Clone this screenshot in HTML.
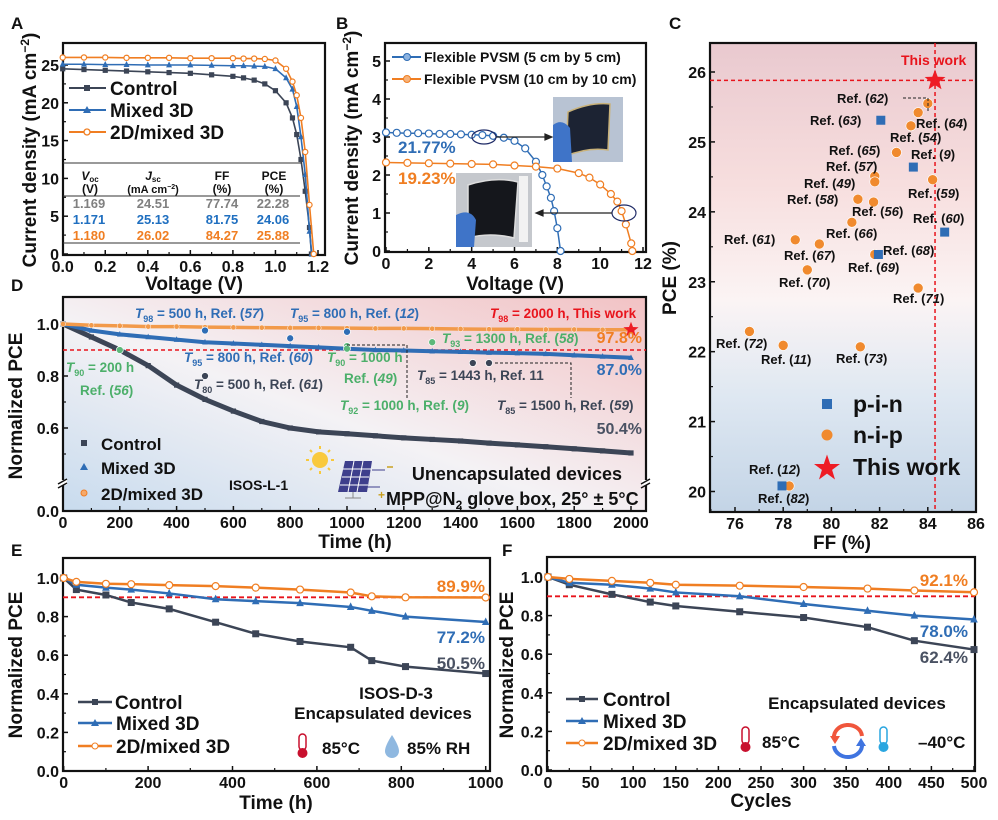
<!DOCTYPE html>
<html><head><meta charset="utf-8">
<style>
html,body{margin:0;padding:0;background:#fff;}
svg{display:block;font-family:"Liberation Sans",Arial,sans-serif;font-weight:bold;}
</style></head>
<body>
<svg id="fig" width="998" height="820" viewBox="0 0 998 820" xmlns="http://www.w3.org/2000/svg">
<defs>
<linearGradient id="gC" x1="0" y1="0" x2="0" y2="1">
<stop offset="0" stop-color="#e9c9cf"/><stop offset="0.3" stop-color="#f7dede"/><stop offset="0.55" stop-color="#fbf4f4"/><stop offset="0.75" stop-color="#dfe8f2"/><stop offset="1" stop-color="#c3d4e6"/>
</linearGradient>
<linearGradient id="gD" x1="0" y1="1" x2="1" y2="0">
<stop offset="0" stop-color="#c8dbee"/><stop offset="0.45" stop-color="#f4f2f5"/><stop offset="1" stop-color="#f2c2c4"/>
</linearGradient>
</defs>
<rect x="710" y="43" width="266" height="469" fill="url(#gC)"/>
<rect x="63" y="297" width="583" height="214" fill="url(#gD)"/>
<g id="layer"></g>

<!-- panel letters -->
<g font-size="17" fill="#111">
<text x="11" y="29">A</text>
<text x="336" y="29">B</text>
<text x="669" y="29">C</text>
<text x="11" y="291">D</text>
<text x="11" y="556">E</text>
<text x="502" y="556">F</text>
</g>

<!-- axis titles -->
<g font-size="19" fill="#111" text-anchor="middle">
<text transform="translate(36,150) rotate(-90)">Current density (mA cm<tspan font-size="12" dy="-7">−2</tspan><tspan dy="7">)</tspan></text>
<text x="194" y="290">Voltage (V)</text>
<text transform="translate(358,148) rotate(-90)">Current density (mA cm<tspan font-size="12" dy="-7">−2</tspan><tspan dy="7">)</tspan></text>
<text x="515" y="290">Voltage (V)</text>
<text transform="translate(676,278) rotate(-90)">PCE (%)</text>
<text x="842" y="549">FF (%)</text>
<text transform="translate(22,406) rotate(-90)">Normalized PCE</text>
<text x="355" y="548">Time (h)</text>
<text transform="translate(22,665) rotate(-90)">Normalized PCE</text>
<text x="276" y="809">Time (h)</text>
<text transform="translate(513,665) rotate(-90)">Normalized PCE</text>
<text x="761" y="807">Cycles</text>
</g>

<!-- Panel A legend & table -->
<g font-size="19" fill="#111">
<line x1="69" y1="88" x2="106" y2="88" stroke="#3c4556" stroke-width="2"/><rect x="84" y="85" width="6" height="6" fill="#3c4556"/>
<text x="110" y="95">Control</text>
<line x1="69" y1="110" x2="106" y2="110" stroke="#2f6db5" stroke-width="2"/><polygon points="87,106 91,113 83,113" fill="#2f6db5"/>
<text x="110" y="117">Mixed 3D</text>
<line x1="69" y1="132" x2="106" y2="132" stroke="#f07e22" stroke-width="2"/><circle cx="87" cy="132" r="3" fill="#fff" stroke="#f07e22" stroke-width="1.3"/>
<text x="110" y="139">2D/mixed 3D</text>
</g>
<g font-size="12" text-anchor="middle">
<line x1="63" y1="163" x2="302" y2="163" stroke="#333" stroke-width="1"/>
<line x1="63" y1="196" x2="300" y2="196" stroke="#333" stroke-width="1"/>
<line x1="63" y1="243" x2="300" y2="243" stroke="#333" stroke-width="1"/>
<text x="90" y="180" fill="#111"><tspan font-style="italic">V</tspan><tspan font-size="8" dy="2">oc</tspan></text>
<text x="90" y="193" fill="#111">(V)</text>
<text x="153" y="180" fill="#111"><tspan font-style="italic">J</tspan><tspan font-size="8" dy="2">sc</tspan></text>
<text x="153" y="193" fill="#111" font-size="11">(mA cm<tspan font-size="7" dy="-4">−2</tspan><tspan dy="4">)</tspan></text>
<text x="222" y="180" fill="#111">FF</text><text x="222" y="193" fill="#111">(%)</text>
<text x="274" y="180" fill="#111">PCE</text><text x="274" y="193" fill="#111">(%)</text>
<g font-size="13" fill="#808080"><text x="89" y="208">1.169</text><text x="153" y="208">24.51</text><text x="222" y="208">77.74</text><text x="273" y="208">22.28</text></g>
<g font-size="13" fill="#1f6fc0"><text x="89" y="224">1.171</text><text x="153" y="224">25.13</text><text x="222" y="224">81.75</text><text x="273" y="224">24.06</text></g>
<g font-size="13" fill="#f07e22"><text x="89" y="240">1.180</text><text x="153" y="240">26.02</text><text x="222" y="240">84.27</text><text x="273" y="240">25.88</text></g>
</g>

<!-- Panel B legend, labels, photos -->
<g font-size="14" fill="#111">
<line x1="392" y1="57" x2="421" y2="57" stroke="#2f6db5" stroke-width="2"/><circle cx="407" cy="57" r="3.5" fill="#8db3e0" stroke="#2f6db5"/>
<text x="424" y="62">Flexible PVSM (5 cm by 5 cm)</text>
<line x1="392" y1="79" x2="421" y2="79" stroke="#f07e22" stroke-width="2"/><circle cx="407" cy="79" r="3.5" fill="#f6b27a" stroke="#f07e22"/>
<text x="424" y="84">Flexible PVSM (10 cm by 10 cm)</text>
</g>
<text x="398" y="153" font-size="17" fill="#2f6db5">21.77%</text>
<text x="398" y="184" font-size="17" fill="#f07e22">19.23%</text>
<g>
<rect x="553" y="97" width="70" height="65" fill="#b8c3d3"/>
<path d="M568,112 Q590,102 610,104 L608,150 Q588,147 566,156 Z" fill="#1c2333" stroke="#c9b27a" stroke-width="1.5"/>
<path d="M553,125 Q562,118 570,128 L572,162 L553,162 Z" fill="#3f74c8"/>
</g>
<g>
<rect x="456" y="173" width="76" height="74" fill="#c5c8cd"/>
<path d="M468,185 Q495,176 518,182 L514,238 Q490,232 468,238 Z" fill="#15171c" stroke="#ddd" stroke-width="1.5"/>
<rect x="519" y="176" width="9" height="66" fill="#f2f2f2"/>
<path d="M456,215 Q470,208 476,220 L474,247 L456,247 Z" fill="#3f74c8"/>
</g>
<g stroke="#222" stroke-width="1.2" fill="none">
<ellipse cx="484" cy="137" rx="12" ry="7" stroke="#1e2a66"/>
<line x1="496" y1="137" x2="548" y2="137"/><polygon points="552,137 545,134 545,140" fill="#222"/>
<ellipse cx="624" cy="213" rx="12" ry="8" stroke="#1e2a66"/>
<line x1="612" y1="213" x2="541" y2="213"/><polygon points="536,213 543,210 543,216" fill="#222"/>
</g>

<!-- Panel C labels -->
<g font-size="13" fill="#111">
<text x="901" y="65" fill="#e8141c" font-size="14">This work</text>
<text x="837" y="103">Ref. (<tspan font-style="italic">62</tspan>)</text>
<text x="810" y="125">Ref. (<tspan font-style="italic">63</tspan>)</text>
<text x="916" y="128">Ref. (<tspan font-style="italic">64</tspan>)</text>
<text x="890" y="142">Ref. (<tspan font-style="italic">54</tspan>)</text>
<text x="829" y="155">Ref. (<tspan font-style="italic">65</tspan>)</text>
<text x="911" y="159">Ref. (<tspan font-style="italic">9</tspan>)</text>
<text x="826" y="171">Ref. (<tspan font-style="italic">57</tspan>)</text>
<text x="804" y="188">Ref. (<tspan font-style="italic">49</tspan>)</text>
<text x="908" y="198">Ref. (<tspan font-style="italic">59</tspan>)</text>
<text x="787" y="204">Ref. (<tspan font-style="italic">58</tspan>)</text>
<text x="852" y="216">Ref. (<tspan font-style="italic">56</tspan>)</text>
<text x="913" y="223">Ref. (<tspan font-style="italic">60</tspan>)</text>
<text x="826" y="238">Ref. (<tspan font-style="italic">66</tspan>)</text>
<text x="724" y="244">Ref. (<tspan font-style="italic">61</tspan>)</text>
<text x="784" y="260">Ref. (<tspan font-style="italic">67</tspan>)</text>
<text x="883" y="255">Ref. (<tspan font-style="italic">68</tspan>)</text>
<text x="848" y="272">Ref. (<tspan font-style="italic">69</tspan>)</text>
<text x="779" y="287">Ref. (<tspan font-style="italic">70</tspan>)</text>
<text x="893" y="303">Ref. (<tspan font-style="italic">71</tspan>)</text>
<text x="716" y="348">Ref. (<tspan font-style="italic">72</tspan>)</text>
<text x="761" y="364">Ref. (<tspan font-style="italic">11</tspan>)</text>
<text x="836" y="363">Ref. (<tspan font-style="italic">73</tspan>)</text>
<text x="749" y="474">Ref. (<tspan font-style="italic">12</tspan>)</text>
<text x="758" y="503">Ref. (<tspan font-style="italic">82</tspan>)</text>
</g>
<polyline points="903,98 928,98 928,112" fill="none" stroke="#222" stroke-dasharray="3,2"/>
<g font-size="23" fill="#111">
<rect x="822" y="399" width="10" height="10" fill="#2f6db5"/>
<text x="853" y="412">p-i-n</text>
<circle cx="827" cy="435" r="5.5" fill="#f08a2e"/>
<text x="853" y="443">n-i-p</text>
<polygon points="827,454.5 830.2,464 840,464 832.1,469.9 835,479.5 827,473.6 819,479.5 821.9,469.9 814,464 823.8,464" fill="#ee1c25"/>
<text x="853" y="475">This work</text>
</g>

<!-- Panel D annotations -->
<g font-size="13.5">
<text x="135" y="318" fill="#2f6db5"><tspan font-style="italic">T</tspan><tspan font-size="9" dy="4">98</tspan><tspan dy="-4"> = 500 h, Ref. (</tspan><tspan font-style="italic">57</tspan>)</text>
<text x="290" y="318" fill="#2f6db5"><tspan font-style="italic">T</tspan><tspan font-size="9" dy="4">95</tspan><tspan dy="-4"> = 800 h, Ref. (</tspan><tspan font-style="italic">12</tspan>)</text>
<text x="490" y="318" fill="#e8141c"><tspan font-style="italic">T</tspan><tspan font-size="9" dy="4">98</tspan><tspan dy="-4"> = 2000 h, This work</tspan></text>
<text x="442" y="343" fill="#4caf6a"><tspan font-style="italic">T</tspan><tspan font-size="9" dy="4">93</tspan><tspan dy="-4"> = 1300 h, Ref. (</tspan><tspan font-style="italic">58</tspan>)</text>
<text x="184" y="362" fill="#2f6db5"><tspan font-style="italic">T</tspan><tspan font-size="9" dy="4">95</tspan><tspan dy="-4"> = 800 h, Ref. (</tspan><tspan font-style="italic">60</tspan>)</text>
<text x="327" y="362" fill="#4caf6a"><tspan font-style="italic">T</tspan><tspan font-size="9" dy="4">90</tspan><tspan dy="-4"> = 1000 h</tspan></text>
<text x="66" y="372" fill="#4caf6a"><tspan font-style="italic">T</tspan><tspan font-size="9" dy="4">90</tspan><tspan dy="-4"> = 200 h</tspan></text>
<text x="80" y="395" fill="#4caf6a">Ref. (<tspan font-style="italic">56</tspan>)</text>
<text x="194" y="389" fill="#3c4556"><tspan font-style="italic">T</tspan><tspan font-size="9" dy="4">80</tspan><tspan dy="-4"> = 500 h, Ref. (</tspan><tspan font-style="italic">61</tspan>)</text>
<text x="344" y="383" fill="#4caf6a">Ref. (<tspan font-style="italic">49</tspan>)</text>
<text x="417" y="380" fill="#3c4556"><tspan font-style="italic">T</tspan><tspan font-size="9" dy="4">85</tspan><tspan dy="-4"> = 1443 h, Ref. 11</tspan></text>
<text x="340" y="410" fill="#4caf6a"><tspan font-style="italic">T</tspan><tspan font-size="9" dy="4">92</tspan><tspan dy="-4"> = 1000 h, Ref. (</tspan><tspan font-style="italic">9</tspan>)</text>
<text x="497" y="410" fill="#3c4556"><tspan font-style="italic">T</tspan><tspan font-size="9" dy="4">85</tspan><tspan dy="-4"> = 1500 h, Ref. (</tspan><tspan font-style="italic">59</tspan>)</text>
</g>
<g font-size="16" text-anchor="end">
<text x="642" y="343" fill="#f07e22">97.8%</text>
<text x="642" y="375" fill="#2f6db5">87.0%</text>
<text x="642" y="434" fill="#4a5263">50.4%</text>
</g>
<g fill="none" stroke="#222" stroke-dasharray="3,2">
<polyline points="347,345 407,345 407,400"/>
<polyline points="495,363 571,363 571,398"/>
</g>
<g font-size="17" fill="#111">
<rect x="81" y="440" width="6" height="6" fill="#3c4556"/>
<text x="101" y="450">Control</text>
<polygon points="84,463 88,470 80,470" fill="#2f6db5"/>
<text x="101" y="474">Mixed 3D</text>
<circle cx="84" cy="493" r="3" fill="#f6a96a" stroke="#f07e22"/>
<text x="101" y="500">2D/mixed 3D</text>
</g>
<text x="229" y="490" font-size="14" fill="#111">ISOS-L-1</text>
<text x="622" y="480" font-size="18" fill="#111" text-anchor="end">Unencapsulated devices</text>
<text x="386" y="505" font-size="18" fill="#111">MPP@N<tspan font-size="12" dy="4">2</tspan><tspan dy="-4"> glove box, 25° ± 5°C</tspan></text>
<g>
<circle cx="320" cy="460" r="8" fill="#f9c93c"/>
<g stroke="#f9c93c" stroke-width="2"><line x1="320" y1="446" x2="320" y2="449"/><line x1="320" y1="471" x2="320" y2="474"/><line x1="306" y1="460" x2="309" y2="460"/><line x1="331" y1="460" x2="334" y2="460"/><line x1="310" y1="450" x2="312" y2="452"/><line x1="328" y1="468" x2="330" y2="470"/><line x1="330" y1="450" x2="328" y2="452"/><line x1="310" y1="470" x2="312" y2="468"/></g>
</g>
<g>
<polygon points="345,461 372,461 367,492 338,492" fill="#3e3f8c"/>
<g stroke="#fff" stroke-width="1"><line x1="354" y1="461" x2="348" y2="492"/><line x1="363" y1="461" x2="357" y2="492"/><line x1="343" y1="469" x2="371" y2="469"/><line x1="342" y1="477" x2="369" y2="477"/><line x1="340" y1="485" x2="368" y2="485"/></g>
<line x1="353" y1="492" x2="353" y2="498" stroke="#888"/><line x1="345" y1="498" x2="361" y2="498" stroke="#888"/>
<line x1="372" y1="470" x2="385" y2="470" stroke="#3e3f8c"/><line x1="387" y1="467" x2="393" y2="467" stroke="#c9a020" stroke-width="1.5"/>
<line x1="367" y1="487" x2="380" y2="487" stroke="#3e3f8c"/><text x="378" y="499" font-size="12" fill="#c9a020">+</text>
</g>

<!-- Panel E annotations -->
<g font-size="17" text-anchor="end">
<text x="485" y="592" fill="#f07e22">89.9%</text>
<text x="485" y="643" fill="#2f6db5">77.2%</text>
<text x="485" y="669" fill="#4a5263">50.5%</text>
</g>
<g font-size="19" fill="#111">
<line x1="78" y1="702" x2="112" y2="702" stroke="#3c4556" stroke-width="2.5"/><rect x="92" y="699" width="6" height="6" fill="#3c4556"/>
<text x="115" y="709">Control</text>
<line x1="78" y1="723" x2="112" y2="723" stroke="#2f6db5" stroke-width="2.5"/><polygon points="95,719 99,726 91,726" fill="#2f6db5"/>
<text x="116" y="730">Mixed 3D</text>
<line x1="78" y1="746" x2="112" y2="746" stroke="#f07e22" stroke-width="2.5"/><circle cx="95" cy="746" r="3" fill="#fff" stroke="#f07e22"/>
<text x="116" y="753">2D/mixed 3D</text>
</g>
<text x="396" y="699" font-size="17" fill="#111" text-anchor="middle">ISOS-D-3</text>
<text x="383" y="719" font-size="17" fill="#111" text-anchor="middle">Encapsulated devices</text>
<g>
<rect x="299" y="734" width="7" height="16" rx="3.5" fill="#fff" stroke="#c8102e" stroke-width="1.5"/><circle cx="302.5" cy="753" r="5" fill="#c8102e"/>
</g>
<text x="322" y="754" font-size="17" fill="#111">85°C</text>
<path d="M392,735 Q385,746 385,751 A7,7 0 0 0 399,751 Q399,746 392,735 Z" fill="#8fb8e0"/>
<text x="407" y="754" font-size="17" fill="#111">85% RH</text>

<!-- Panel F annotations -->
<g font-size="17" text-anchor="end">
<text x="968" y="586" fill="#f07e22">92.1%</text>
<text x="968" y="637" fill="#2f6db5">78.0%</text>
<text x="968" y="663" fill="#4a5263">62.4%</text>
</g>
<g font-size="19" fill="#111">
<line x1="566" y1="699" x2="598" y2="699" stroke="#3c4556" stroke-width="2.5"/><rect x="579" y="696" width="6" height="6" fill="#3c4556"/>
<text x="603" y="706">Control</text>
<line x1="566" y1="721" x2="598" y2="721" stroke="#2f6db5" stroke-width="2.5"/><polygon points="582,717 586,724 578,724" fill="#2f6db5"/>
<text x="603" y="728">Mixed 3D</text>
<line x1="566" y1="743" x2="598" y2="743" stroke="#f07e22" stroke-width="2.5"/><circle cx="582" cy="743" r="3" fill="#fff" stroke="#f07e22"/>
<text x="603" y="750">2D/mixed 3D</text>
</g>
<text x="857" y="709" font-size="17" fill="#111" text-anchor="middle">Encapsulated devices</text>
<g>
<rect x="742" y="727" width="7" height="17" rx="3.5" fill="#fff" stroke="#c8102e" stroke-width="1.5"/><circle cx="745.5" cy="747" r="5" fill="#c8102e"/>
</g>
<text x="762" y="748" font-size="17" fill="#111">85°C</text>
<g fill="none" stroke-width="4">
<path d="M834,738 A14,12 0 0 1 862,736" stroke="#f0563c"/>
<path d="M862,744 A14,12 0 0 1 834,746" stroke="#3f74e0"/>
<polygon points="830,736 840,736 835,744" fill="#f0563c" stroke="none"/>
<polygon points="866,746 856,746 861,738" fill="#3f74e0" stroke="none"/>
</g>
<g>
<rect x="880" y="727" width="7" height="17" rx="3.5" fill="#fff" stroke="#2aa6e0" stroke-width="1.5"/><circle cx="883.5" cy="747" r="5" fill="#2aa6e0"/>
</g>
<text x="918" y="748" font-size="17" fill="#111">–40°C</text>
</svg>

<script>
// ---------- Panel A data ----------
const aCtrlV=[0,0.1,0.2,0.3,0.4,0.5,0.6,0.7,0.8,0.85,0.9,0.95,1.0,1.05,1.08,1.1,1.12,1.14,1.16,1.169];
const aCtrlJ=[24.5,24.4,24.3,24.2,24.1,24.0,23.9,23.7,23.5,23.3,23.0,22.5,21.6,20.0,18.0,15.8,12.5,8.3,3.5,0];
const aMixV=[0,0.1,0.2,0.3,0.4,0.5,0.6,0.7,0.8,0.85,0.9,0.95,1.0,1.05,1.08,1.1,1.12,1.14,1.16,1.171];
const aMixJ=[25.1,25.1,25.05,25.05,25.0,25.0,25.0,24.95,24.9,24.9,24.85,24.8,24.5,23.3,21.8,19.5,15.5,10.5,3.0,0];
const a2dV=[0,0.1,0.2,0.3,0.4,0.5,0.6,0.7,0.8,0.85,0.9,0.95,1.0,1.05,1.08,1.1,1.12,1.14,1.16,1.18];
const a2dJ=[26.0,26.0,26.0,25.95,25.95,25.95,25.9,25.9,25.9,25.85,25.85,25.8,25.6,24.5,22.8,21.0,18.0,13.5,6.5,0];
const aXTicks=[0,0.2,0.4,0.6,0.8,1.0,1.2];
const aYTicks=[0,5,10,15,20,25];
// ---------- Panel B data ----------
const bSmallV=[0,0.5,1,1.5,2,2.5,3,3.5,4,4.5,5,5.5,6,6.5,7,7.3,7.5,7.7,7.85,8.0,8.15];
const bSmallJ=[3.12,3.11,3.1,3.1,3.09,3.08,3.08,3.07,3.06,3.05,3.03,2.98,2.9,2.7,2.35,2.0,1.7,1.4,1.05,0.6,0];
const bLargeV=[0,1,2,3,4,5,6,7,8,9,9.5,10,10.5,10.8,11,11.2,11.45,11.5];
const bLargeJ=[2.33,2.32,2.31,2.3,2.29,2.28,2.25,2.22,2.17,2.05,1.93,1.75,1.5,1.3,1.05,0.7,0.2,0];
const bXTicks=[0,2,4,6,8,10,12];
const bYTicks=[0,1,2,3,4,5];
// ---------- Panel C data ----------
const cPinFF=[82.05,83.4,84.7,81.95,77.95];
const cPinPCE=[25.31,24.64,23.71,23.39,20.08];
const cNipFF=[84.0,83.6,83.3,82.7,81.8,81.8,84.2,81.1,81.75,80.85,78.5,79.5,81.8,79.0,83.6,76.6,78.0,81.2,78.25];
const cNipPCE=[25.55,25.42,25.23,24.85,24.51,24.43,24.46,24.18,24.14,23.85,23.6,23.54,23.39,23.17,22.91,22.29,22.09,22.07,20.08];
const cThisFF=[84.3];
const cThisPCE=[25.88];
const cXTicks=[76,78,80,82,84,86];
const cYTicks=[20,21,22,23,24,25,26];
// ---------- Panel D data ----------
const dTime=[0,100,200,300,400,500,600,700,800,900,1000,1100,1200,1300,1400,1500,1600,1700,1800,1900,2000];
const dCtrl=[1.0,0.95,0.9,0.84,0.765,0.71,0.665,0.625,0.6,0.585,0.578,0.57,0.562,0.556,0.55,0.542,0.535,0.528,0.52,0.512,0.504];
const dMix=[1.0,0.975,0.96,0.95,0.94,0.93,0.925,0.92,0.915,0.91,0.905,0.9,0.898,0.895,0.893,0.89,0.888,0.885,0.88,0.875,0.87];
const d2D=[1.0,0.995,0.993,0.99,0.99,0.988,0.987,0.986,0.985,0.985,0.984,0.983,0.983,0.982,0.981,0.98,0.98,0.979,0.979,0.978,0.978];
const dRefT=[500,800,1000,1000,1000,200,500,1300,1443,1500];
const dRefV=[0.975,0.945,0.97,0.915,0.905,0.9,0.8,0.93,0.85,0.85];
const dRefKind=['blue','blue','blue','green','green','green','gray','green','gray','gray'];
const dXTicks=[0,200,400,600,800,1000,1200,1400,1600,1800,2000];
const dYTicks=[0.0,0.6,0.8,1.0];
// ---------- Panel E data ----------
const eTime=[0,30,100,160,250,360,455,560,680,730,810,1000];
const eCtrl=[1.0,0.94,0.912,0.873,0.84,0.771,0.711,0.671,0.641,0.572,0.541,0.505];
const eMix=[1.0,0.965,0.95,0.94,0.92,0.89,0.88,0.87,0.85,0.83,0.80,0.772];
const e2D=[1.0,0.98,0.97,0.968,0.963,0.958,0.95,0.94,0.925,0.905,0.90,0.899];
const eXTicks=[0,200,400,600,800,1000];
const eYTicks=[0,0.2,0.4,0.6,0.8,1.0];
// ---------- Panel F data ----------
const fCycles=[0,25,75,120,150,225,300,375,430,500];
const fCtrl=[1.0,0.96,0.91,0.87,0.85,0.82,0.79,0.74,0.67,0.624];
const fMix=[1.0,0.97,0.96,0.94,0.92,0.90,0.86,0.825,0.80,0.78];
const f2D=[1.0,0.99,0.98,0.97,0.96,0.955,0.948,0.94,0.93,0.921];
const fXTicks=[0,50,100,150,200,250,300,350,400,450,500];
const fYTicks=[0,0.2,0.4,0.6,0.8,1.0];

const NS='http://www.w3.org/2000/svg';
const layer=document.getElementById('layer');
function mk(tag,attrs,parent){const e=document.createElementNS(NS,tag);for(const k in attrs)e.setAttribute(k,attrs[k]);(parent||layer).appendChild(e);return e;}
function lin(d0,p0,d1,p1){return v=>p0+(v-d0)/(d1-d0)*(p1-p0);}
const C_CTRL='#3c4556',C_MIX='#2f6db5',C_2D='#f07e22';

function drawAxes(pfx,box,sx,sy,xt,yt,xf,yf,xMinor,yMinor){
  const g=mk('g',{});
  
  
  xt.forEach(v=>{
    const x=sx(v);
    const t=mk('line',{x1:x,y1:box.b,x2:x,y2:box.b-5,stroke:'#111','stroke-width':1.5},g);
    
    
    const l=mk('text',{x:x,y:box.b+17,'font-size':16,'text-anchor':'middle',fill:'#111'},g);
    
    
    l.textContent=xf(v);
  });
  xMinor.forEach(v=>{
    const x=sx(v);
    const t=mk('line',{x1:x,y1:box.b,x2:x,y2:box.b-3,stroke:'#111','stroke-width':1.2},g);
    
    
  });
  yt.forEach(v=>{
    const y=sy(v);
    const t=mk('line',{x1:box.l,y1:y,x2:box.l+5,y2:y,stroke:'#111','stroke-width':1.5},g);
    
    
    const l=mk('text',{x:box.l-4,y:y+6,'font-size':16,'text-anchor':'end',fill:'#111'},g);
    
    
    l.textContent=yf(v);
  });
  yMinor.forEach(v=>{
    const y=sy(v);
    const t=mk('line',{x1:box.l,y1:y,x2:box.l+3,y2:y,stroke:'#111','stroke-width':1.2},g);
    
    
  });
  const f=mk('rect',{x:box.l,y:box.t,width:box.r-box.l,height:box.b-box.t,fill:'none',stroke:'#111','stroke-width':2.2},g);
  
  
}
function marker(kind,x,y,col,size,parent){
  let m;
  if(kind==='sq') m=mk('rect',{x:x-size,y:y-size,width:size*2,height:size*2,fill:col},parent);
  else if(kind==='tri') m=mk('polygon',{points:`${x},${y-size*1.2} ${x+size},${y+size*0.8} ${x-size},${y+size*0.8}`,fill:col},parent);
  else if(kind==='oc') m=mk('circle',{cx:x,cy:y,r:size,fill:'#fff',stroke:col,'stroke-width':1.2},parent);
  else m=mk('circle',{cx:x,cy:y,r:size,fill:col,stroke:'#fff','stroke-width':0.5},parent);
  return m;
}
function series(name,xs,ys,sx,sy,col,kind,size,lw){
  const g=mk('g',{});
  
  
  const pts=xs.map((x,i)=>sx(x)+','+sy(ys[i])).join(' ');
  const pl=mk('polyline',{points:pts,fill:'none',stroke:col,'stroke-width':lw},g);
  
  
  xs.forEach((x,i)=>{
    const m=marker(kind,sx(x),sy(ys[i]),col,size,g);
    
    
  });
}
function starPts(cx,cy,R){const r=R*0.42;let p=[];for(let i=0;i<10;i++){const a=-Math.PI/2+i*Math.PI/5;const rr=i%2?r:R;p.push((cx+rr*Math.cos(a)).toFixed(1)+','+(cy+rr*Math.sin(a)).toFixed(1));}return p.join(' ');}

// ---- Panel A ----
{
  const box={l:63,r:325,t:43,b:255};
  const sx=lin(0,62.7,1.2,318), sy=lin(0,254,25,65);
  drawAxes('a',box,sx,sy,aXTicks,aYTicks,v=>v.toFixed(1),v=>String(v),[0.1,0.3,0.5,0.7,0.9,1.1],[2.5,7.5,12.5,17.5,22.5]);
  series('a-series-control',aCtrlV,aCtrlJ,sx,sy,C_CTRL,'sq',2.6,1.6);
  series('a-series-mixed-3d',aMixV,aMixJ,sx,sy,C_MIX,'tri',3,1.6);
  series('a-series-2d-mixed-3d',a2dV,a2dJ,sx,sy,C_2D,'oc',2.6,1.6);
}
// ---- Panel B ----
{
  const box={l:385,r:646,t:43,b:252};
  const sx=lin(0,386,12,643), sy=lin(0,251,5,61);
  drawAxes('b',box,sx,sy,bXTicks,bYTicks,v=>String(v),v=>String(v),[1,3,5,7,9,11],[0.5,1.5,2.5,3.5,4.5]);
  series('b-series-5cm',bSmallV,bSmallJ,sx,sy,C_MIX,'oc',3.5,1.5);
  series('b-series-10cm',bLargeV,bLargeJ,sx,sy,C_2D,'oc',3.5,1.5);
}
// ---- Panel C ----
{
  const box={l:710,r:976,t:43,b:512};
  const sx=lin(76,735,86,976), sy=lin(26,72,20,491.5);
  drawAxes('c',box,sx,sy,cXTicks,cYTicks,v=>String(v),v=>String(v),[75,77,79,81,83,85],[20.5,21.5,22.5,23.5,24.5,25.5]);
  const h=mk('line',{x1:box.l,x2:box.r,y1:sy(cThisPCE[0]),y2:sy(cThisPCE[0]),stroke:'#e8141c','stroke-width':1.5,'stroke-dasharray':'4,3'});
  
  
  const v=mk('line',{x1:sx(cThisFF[0]),x2:sx(cThisFF[0]),y1:box.t,y2:box.b,stroke:'#e8141c','stroke-width':1.5,'stroke-dasharray':'4,3'});
  
  
  cNipFF.forEach((f,i)=>{
    const m=mk('circle',{cx:sx(f),cy:sy(cNipPCE[i]),r:5,fill:'#f08a2e',stroke:'#fff','stroke-width':0.6});
    
    
  });
  cPinFF.forEach((f,i)=>{
    const m=mk('rect',{x:sx(f)-4.5,y:sy(cPinPCE[i])-4.5,width:9,height:9,fill:'#2f6db5'});
    
    
  });
  cThisFF.forEach((f,i)=>{
    const s=mk('polygon',{points:starPts(sx(f),sy(cThisPCE[i]),11),fill:'#ee1c25'});
    
    
  });
}
// ---- Panel D ----
{
  const box={l:63,r:646,t:297,b:511};
  const sx=lin(0,63,2000,631);
  const up=lin(1,324,0.6,428);
  const sy=v=>v<0.2?511-v*280:up(v);
  drawAxes('d',box,sx,sy,dXTicks,dYTicks,v=>String(v),v=>v.toFixed(1),[100,300,500,700,900,1100,1300,1500,1700,1900],[0.5,0.7,0.9]);
  const br=mk('g',{stroke:'#111','stroke-width':1.5});
  
  
  mk('rect',{x:box.l-4,y:480,width:8,height:5,fill:'#fff',stroke:'none'},br);
  mk('line',{x1:box.l-5,y1:484,x2:box.l+4,y2:479},br);
  mk('line',{x1:box.l-5,y1:488,x2:box.l+4,y2:483},br);
  mk('rect',{x:box.r-4,y:480,width:8,height:5,fill:'#fff',stroke:'none'},br);
  mk('line',{x1:box.r-5,y1:484,x2:box.r+4,y2:479},br);
  mk('line',{x1:box.r-5,y1:488,x2:box.r+4,y2:483},br);
  const t=mk('line',{x1:box.l,x2:box.r,y1:sy(0.9),y2:sy(0.9),stroke:'#e8141c','stroke-width':1.5,'stroke-dasharray':'4,3'});
  
  
  series('d-series-control',dTime,dCtrl,sx,sy,C_CTRL,'sq',2.6,5);
  series('d-series-mixed-3d',dTime,dMix,sx,sy,C_MIX,'tri',2.8,4);
  series('d-series-2d-mixed-3d',dTime,d2D,sx,sy,'#f29a4a','fc',2.6,3.5);
  const cols={blue:'#2f6db5',green:'#5cb87a',gray:'#3c4556'};
  dRefT.forEach((tt,i)=>{
    const m=mk('circle',{cx:sx(tt),cy:sy(dRefV[i]),r:3.5,fill:cols[dRefKind[i]],stroke:'#fff','stroke-width':0.7});
    
    
  });
  const s=mk('polygon',{points:starPts(sx(2000),sy(0.978),8),fill:'#ee1c25'});
  
  
}
// ---- Panel E ----
{
  const box={l:63,r:490,t:558,b:771};
  const sx=lin(0,63.7,1000,485.7), sy=lin(0,771,1,578);
  drawAxes('e',box,sx,sy,eXTicks,eYTicks,v=>String(v),v=>v.toFixed(1),[100,300,500,700,900],[0.1,0.3,0.5,0.7,0.9]);
  const t=mk('line',{x1:box.l,x2:box.r,y1:sy(0.9),y2:sy(0.9),stroke:'#e8141c','stroke-width':1.8,'stroke-dasharray':'5,3'});
  
  
  series('e-series-control',eTime,eCtrl,sx,sy,C_CTRL,'sq',3.5,2.5);
  series('e-series-mixed-3d',eTime,eMix,sx,sy,C_MIX,'tri',3.8,2.5);
  series('e-series-2d-mixed-3d',eTime,e2D,sx,sy,C_2D,'oc',3.5,2.5);
}
// ---- Panel F ----
{
  const box={l:547,r:975,t:557,b:771};
  const sx=lin(0,548,500,974), sy=lin(0,770,1,577);
  drawAxes('f',box,sx,sy,fXTicks,fYTicks,v=>String(v),v=>v.toFixed(1),[25,75,125,175,225,275,325,375,425,475],[0.1,0.3,0.5,0.7,0.9]);
  const t=mk('line',{x1:box.l,x2:box.r,y1:sy(0.9),y2:sy(0.9),stroke:'#e8141c','stroke-width':1.8,'stroke-dasharray':'5,3'});
  
  
  series('f-series-control',fCycles,fCtrl,sx,sy,C_CTRL,'sq',3.5,2.5);
  series('f-series-mixed-3d',fCycles,fMix,sx,sy,C_MIX,'tri',3.8,2.5);
  series('f-series-2d-mixed-3d',fCycles,f2D,sx,sy,C_2D,'oc',3.5,2.5);
}
</script>
</body></html>
